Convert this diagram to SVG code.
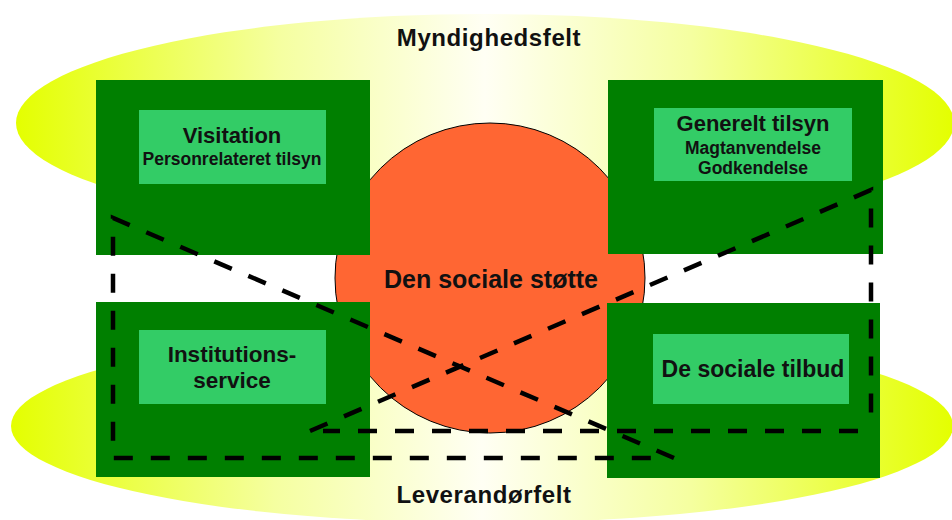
<svg xmlns="http://www.w3.org/2000/svg" width="952" height="520" viewBox="0 0 952 520">
  <defs>
    <linearGradient id="field" x1="0" y1="0" x2="1" y2="0">
      <stop offset="0" stop-color="#e4ff00"/>
      <stop offset="0.28" stop-color="#f5ffa0"/>
      <stop offset="0.5" stop-color="#fffff4"/>
      <stop offset="0.72" stop-color="#f5ffa0"/>
      <stop offset="1" stop-color="#e4ff00"/>
    </linearGradient>
    <style>
      .field { fill: url(#field); }
      .outer { fill: #007f00; }
      .inner { fill: #33cc66; }
      text { font-family: "Liberation Sans", Arial, sans-serif; font-weight: bold; fill: #111; text-anchor: middle; }
      .dash { fill: none; stroke: #000; stroke-width: 4.5; stroke-dasharray: 19 18; }
    </style>
  </defs>
  <rect width="952" height="520" fill="#ffffff"/>

  <g id="myndighedsfelt">
    <ellipse class="field" cx="485" cy="123" rx="469" ry="109"/>
    <text x="489" y="46" font-size="24" letter-spacing="0.6">Myndighedsfelt</text>
  </g>
  <g id="leverandoerfelt">
    <ellipse class="field" cx="482" cy="426" rx="471" ry="97"/>
    <text x="484" y="503" font-size="24" letter-spacing="0.6">Leverandørfelt</text>
  </g>

  <g id="stoette">
    <circle cx="490" cy="278" r="155" fill="#ff6633" stroke="#000" stroke-width="1"/>
    <text x="491" y="288" font-size="25">Den sociale støtte</text>
  </g>

  <g id="visitation">
    <rect class="outer" x="96" y="80" width="274" height="175"/>
    <rect class="inner" x="139" y="110" width="187" height="74"/>
    <text x="232" y="143" font-size="22">Visitation</text>
    <text x="232" y="165" font-size="17.5">Personrelateret tilsyn</text>
  </g>
  <g id="generelt-tilsyn">
    <rect class="outer" x="608" y="80" width="275" height="174"/>
    <rect class="inner" x="654" y="108" width="198" height="73"/>
    <text x="753" y="131" font-size="22">Generelt tilsyn</text>
    <text x="753" y="154" font-size="17.5">Magtanvendelse</text>
    <text x="753" y="174" font-size="17.5">Godkendelse</text>
  </g>
  <g id="institutionsservice">
    <rect class="outer" x="96" y="302" width="274" height="175"/>
    <rect class="inner" x="139" y="330" width="187" height="74"/>
    <text x="232" y="362" font-size="22.5">Institutions-</text>
    <text x="232" y="388" font-size="22.5">service</text>
  </g>
  <g id="sociale-tilbud">
    <rect class="outer" x="607" y="303" width="273" height="175"/>
    <rect class="inner" x="653" y="334" width="196" height="70"/>
    <text x="753" y="377" font-size="23">De sociale tilbud</text>
  </g>

  <g id="connectors">
    <path class="dash" d="M674 458 L113 218 L113 458 L660 458"/>
    <path class="dash" d="M310 431 L871 190 L871 428 M858 431 L323 431"/>
  </g>
</svg>
